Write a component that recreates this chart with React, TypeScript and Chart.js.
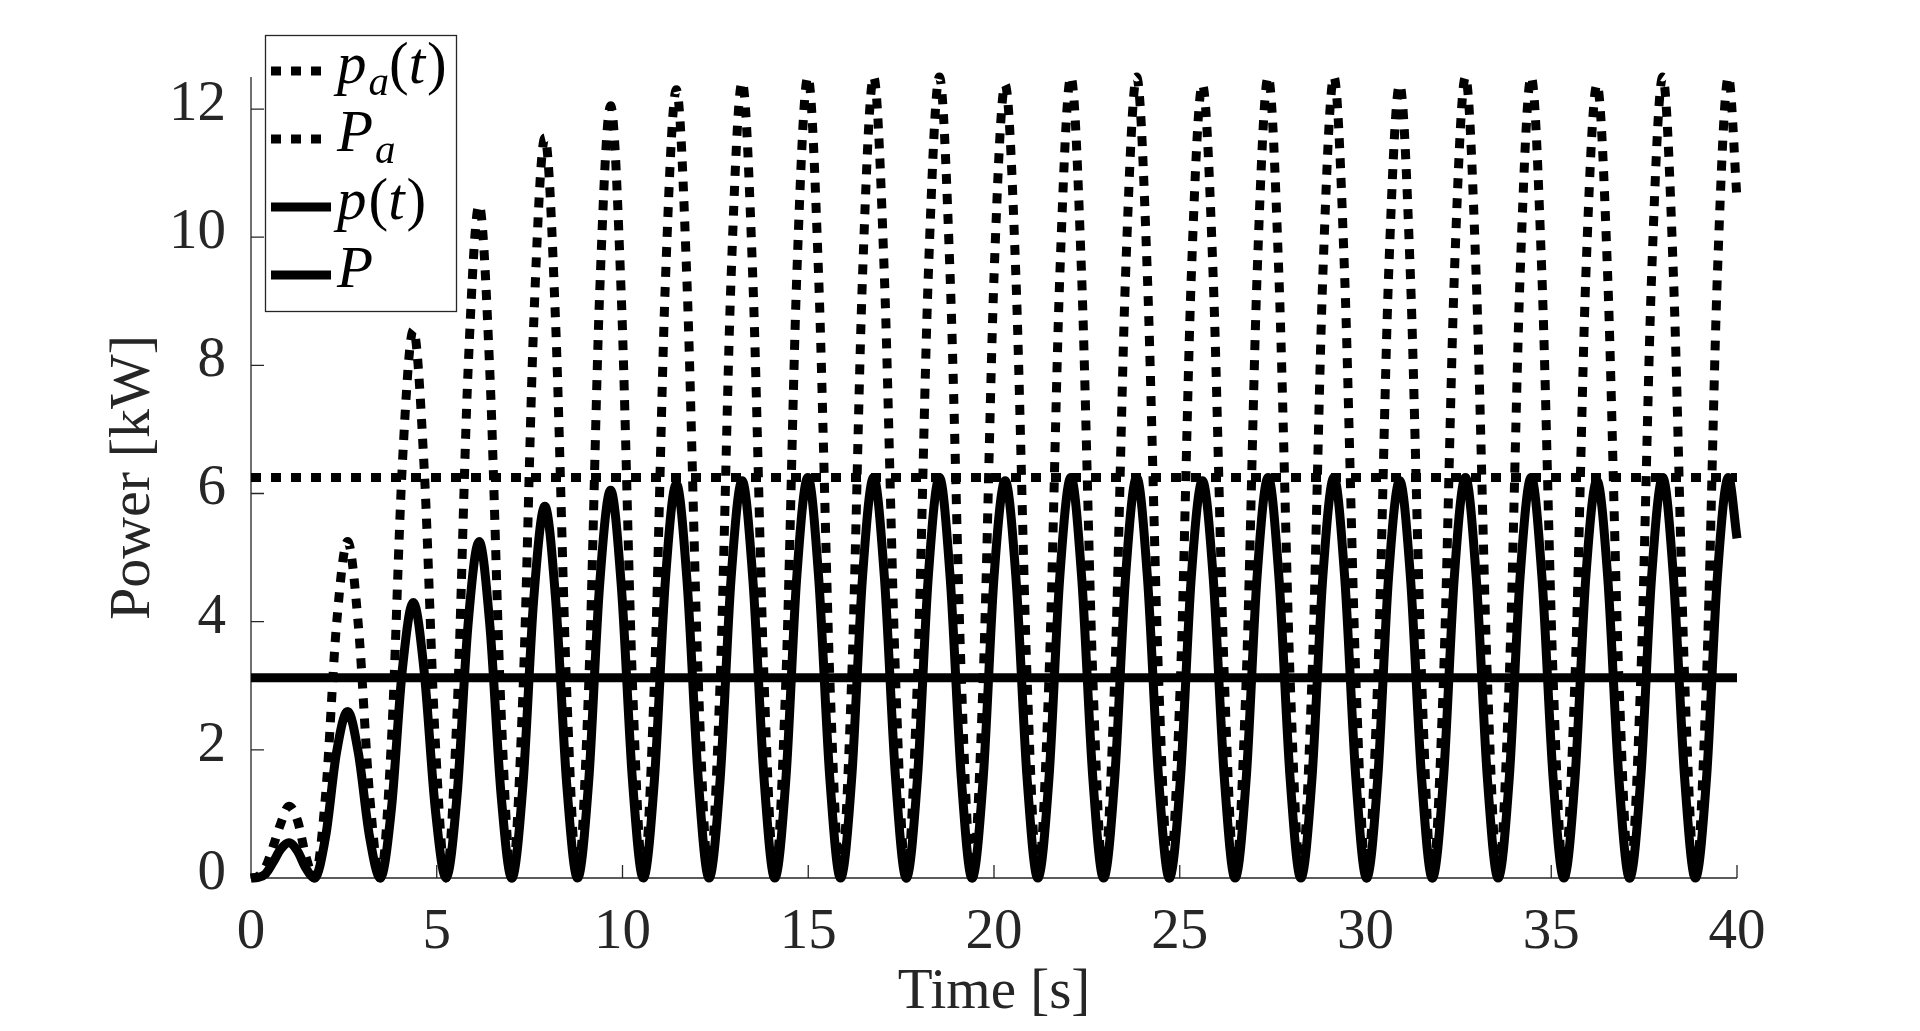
import React, { useEffect, useRef } from 'react';
import { Chart, registerables } from 'chart.js';

Chart.register(...registerables);

// ---- data ----
const time = [
  0, 0.2, 0.4, 0.6, 0.8, 1.02, 1.25, 1.48,
  1.71, 2.01, 2.30, 2.60, 2.89, 3.19,
  3.48, 3.78, 4.07, 4.37, 4.66, 4.96,
  5.25, 5.55, 5.84, 6.14, 6.43, 6.73,
  7.02, 7.32, 7.61, 7.91, 8.20, 8.50,
  8.79, 9.09, 9.38, 9.68, 9.97, 10.27,
  10.56, 10.86, 11.15, 11.45, 11.74, 12.04,
  12.33, 12.63, 12.92, 13.22, 13.51, 13.81,
  14.10, 14.40, 14.69, 14.99, 15.28, 15.58,
  15.87, 16.17, 16.46, 16.76, 17.05, 17.35,
  17.64, 17.94, 18.23, 18.53, 18.82, 19.12,
  19.41, 19.71, 20.00, 20.30, 20.59, 20.89,
  21.18, 21.48, 21.77, 22.07, 22.36, 22.66,
  22.95, 23.25, 23.54, 23.84, 24.13, 24.43,
  24.72, 25.02, 25.31, 25.61, 25.90, 26.20,
  26.49, 26.79, 27.08, 27.38, 27.67, 27.97,
  28.26, 28.56, 28.85, 29.15, 29.44, 29.74,
  30.03, 30.33, 30.62, 30.92, 31.21, 31.51,
  31.80, 32.10, 32.39, 32.69, 32.98, 33.28,
  33.57, 33.87, 34.16, 34.46, 34.75, 35.05,
  35.34, 35.64, 35.93, 36.23, 36.52, 36.82,
  37.11, 37.41, 37.70, 38.00, 38.29, 38.59,
  38.88, 39.18, 39.47, 39.77, 40.00,
];

// available power p_a(t) [kW]
const paValues = [
  0, 0.03, 0.18, 0.5, 0.85, 1.12, 0.9, 0.33,
  0, 1.31, 3.94, 5.25, 3.94, 1.31,
  0, 2.14, 6.41, 8.55, 6.41, 2.14,
  0, 2.63, 7.88, 10.5, 7.88, 2.63,
  0, 2.89, 8.66, 11.55, 8.66, 2.89,
  0, 3.01, 9.04, 12.05, 9.04, 3.01,
  0, 3.08, 9.23, 12.3, 9.23, 3.08,
  0, 3.1, 9.32, 12.42, 9.32, 3.1,
  0, 3.13, 9.38, 12.5, 9.38, 3.13,
  0, 3.13, 9.38, 12.5, 9.38, 3.13,
  0, 3.13, 9.38, 12.5, 9.38, 3.13,
  0, 3.13, 9.38, 12.38, 9.38, 3.13,
  0, 3.13, 9.38, 12.5, 9.38, 3.13,
  0, 3.13, 9.38, 12.5, 9.38, 3.13,
  0, 3.13, 9.38, 12.38, 9.38, 3.13,
  0, 3.13, 9.38, 12.5, 9.38, 3.13,
  0, 3.13, 9.38, 12.5, 9.38, 3.13,
  0, 3.13, 9.38, 12.38, 9.38, 3.13,
  0, 3.13, 9.38, 12.5, 9.38, 3.13,
  0, 3.13, 9.38, 12.5, 9.38, 3.13,
  0, 3.13, 9.38, 12.38, 9.38, 3.13,
  0, 3.13, 9.38, 12.5, 9.38, 3.13,
  0, 3.13, 9.38, 12.5, 10.6,
];

// absorbed power p(t) [kW]
const pValues = [
  0, 0.01, 0.07, 0.25, 0.45, 0.55, 0.42, 0.15,
  0, 0.65, 1.95, 2.6, 1.95, 0.65,
  0, 1.08, 3.23, 4.3, 3.23, 1.08,
  0, 1.31, 3.94, 5.25, 3.94, 1.31,
  0, 1.45, 4.35, 5.8, 4.35, 1.45,
  0, 1.51, 4.54, 6.05, 4.54, 1.51,
  0, 1.54, 4.61, 6.15, 4.61, 1.54,
  0, 1.55, 4.65, 6.2, 4.65, 1.55,
  0, 1.56, 4.69, 6.25, 4.69, 1.56,
  0, 1.56, 4.69, 6.25, 4.69, 1.56,
  0, 1.56, 4.69, 6.25, 4.69, 1.56,
  0, 1.56, 4.69, 6.2, 4.69, 1.56,
  0, 1.56, 4.69, 6.25, 4.69, 1.56,
  0, 1.56, 4.69, 6.25, 4.69, 1.56,
  0, 1.56, 4.69, 6.2, 4.69, 1.56,
  0, 1.56, 4.69, 6.25, 4.69, 1.56,
  0, 1.56, 4.69, 6.25, 4.69, 1.56,
  0, 1.56, 4.69, 6.2, 4.69, 1.56,
  0, 1.56, 4.69, 6.25, 4.69, 1.56,
  0, 1.56, 4.69, 6.25, 4.69, 1.56,
  0, 1.56, 4.69, 6.2, 4.69, 1.56,
  0, 1.56, 4.69, 6.25, 4.69, 1.56,
  0, 1.56, 4.69, 6.25, 5.3,
];

const meanSpan = [0, 40];
const PaMean = 6.25;
const PMean = 3.125;

const xTicks = [0, 5, 10, 15, 20, 25, 30, 35, 40];
const yTicks = [0, 2, 4, 6, 8, 10, 12];

const xTitle = 'Time [s]';
const yTitle = 'Power [kW]';

// legend labels as math pieces: [text, italic, subscript]
const legendLabels: [string, boolean, boolean][][] = [
  [['p', true, false], ['a', true, true], ['(', false, false], ['t', true, false], [')', false, false]],
  [['P', true, false], ['a', true, true]],
  [['p', true, false], ['(', false, false], ['t', true, false], [')', false, false]],
  [['P', true, false]],
];

// ---- styling ----
const FONT = "'Liberation Serif', 'Times New Roman', serif";
const AXIS_COLOR = '#262626';
const LINE_W = 9;
const DOT_DASH = [10, 10];

const axesPlugin = {
  id: 'matlabAxes',
  beforeDatasetsDraw(chart: any) {
    const { ctx, chartArea: a, scales } = chart;
    const x = scales.x;
    const y = scales.y;
    ctx.save();
    ctx.strokeStyle = AXIS_COLOR;
    ctx.lineWidth = 1.3;
    ctx.beginPath();
    ctx.moveTo(a.left, a.top);
    ctx.lineTo(a.left, a.bottom);
    ctx.lineTo(a.right, a.bottom);
    yTicks.forEach((v) => {
      const py = y.getPixelForValue(v);
      ctx.moveTo(a.left, py);
      ctx.lineTo(a.left + 13, py);
    });
    xTicks.forEach((v) => {
      const px = x.getPixelForValue(v);
      ctx.moveTo(px, a.bottom);
      ctx.lineTo(px, a.bottom - 13);
    });
    ctx.stroke();
    ctx.restore();
  },
};

const legendPlugin = {
  id: 'matlabLegend',
  afterDraw(chart: any) {
    const { ctx } = chart;
    const boxL = 265, boxT = 35, boxW = 191, boxH = 276;
    ctx.save();
    ctx.fillStyle = '#ffffff';
    ctx.fillRect(boxL, boxT, boxW, boxH);
    ctx.strokeStyle = AXIS_COLOR;
    ctx.lineWidth = 1.3;
    ctx.strokeRect(boxL + 0.5, boxT + 0.5, boxW, boxH);

    const datasets = chart.data.datasets;
    legendLabels.forEach((parts, i) => {
      const rowY = 71 + i * 68;
      const ds = datasets[i];
      ctx.save();
      ctx.strokeStyle = ds.borderColor;
      ctx.lineWidth = ds.borderWidth;
      ctx.lineCap = 'butt';
      ctx.setLineDash(ds.borderDash || []);
      ctx.beginPath();
      ctx.moveTo(271, rowY);
      ctx.lineTo(331, rowY);
      ctx.stroke();
      ctx.restore();

      let tx = 337;
      const base = rowY + 12;
      ctx.fillStyle = '#000000';
      ctx.textBaseline = 'alphabetic';
      ctx.textAlign = 'left';
      parts.forEach(([txt, it, sub]) => {
        const size = sub ? 41 : 59;
        ctx.font = `${it ? 'italic ' : ''}${size}px ${FONT}`;
        ctx.fillText(txt, tx, base + (sub ? 12 : 0));
        tx += ctx.measureText(txt).width + (it && !sub ? 2 : 0);
      });
    });
    ctx.restore();
  },
};

export default function App() {
  const ref = useRef<HTMLCanvasElement>(null);

  useEffect(() => {
    document.body.style.margin = '0';
    const canvas = ref.current;
    if (!canvas) return;

    const lineBase = {
      borderColor: '#000000',
      borderWidth: LINE_W,
      pointRadius: 0,
      pointHoverRadius: 0,
      fill: false,
      clip: false as any,
      borderCapStyle: 'butt' as const,
      borderJoinStyle: 'round' as const,
    };

    const chart = new Chart(canvas, {
      type: 'line',
      data: {
        datasets: [
          {
            ...lineBase,
            label: 'p_a(t)',
            data: time.map((t, i) => ({ x: t, y: paValues[i] })),
            borderDash: DOT_DASH,
            cubicInterpolationMode: 'monotone',
            order: 4,
          },
          {
            ...lineBase,
            label: 'P_a',
            data: meanSpan.map((t) => ({ x: t, y: PaMean })),
            borderDash: DOT_DASH,
            order: 3,
          },
          {
            ...lineBase,
            label: 'p(t)',
            data: time.map((t, i) => ({ x: t, y: pValues[i] })),
            cubicInterpolationMode: 'monotone',
            order: 2,
          },
          {
            ...lineBase,
            label: 'P',
            data: meanSpan.map((t) => ({ x: t, y: PMean })),
            order: 1,
          },
        ] as any,
      },
      options: {
        responsive: false,
        animation: false,
        events: [],
        layout: { padding: { left: 0, top: 77, right: 183, bottom: 0 } },
        plugins: {
          legend: { display: false },
          tooltip: { enabled: false },
        },
        scales: {
          x: {
            type: 'linear',
            min: 0,
            max: 40,
            afterBuildTicks: (s: any) => {
              s.ticks = xTicks.map((v) => ({ value: v }));
            },
            afterFit: (s: any) => {
              s.height = 153;
            },
            grid: { display: false },
            border: { display: false },
            ticks: {
              font: { family: FONT, size: 57 },
              color: AXIS_COLOR,
              padding: 13,
              maxRotation: 0,
              autoSkip: false,
            },
            title: {
              display: true,
              text: xTitle,
              font: { family: FONT, size: 57 },
              color: AXIS_COLOR,
              padding: { top: 0, bottom: 4 },
            },
          },
          y: {
            type: 'linear',
            min: 0,
            max: 12.5,
            afterBuildTicks: (s: any) => {
              s.ticks = yTicks.map((v) => ({ value: v }));
            },
            afterFit: (s: any) => {
              s.width = 251;
            },
            grid: { display: false },
            border: { display: false },
            ticks: {
              font: { family: FONT, size: 57 },
              color: AXIS_COLOR,
              padding: 17,
              labelOffset: -4,
              autoSkip: false,
            },
            title: {
              display: true,
              text: yTitle,
              font: { family: FONT, size: 58 },
              color: AXIS_COLOR,
              padding: { top: 99, bottom: 0 },
            },
          },
        },
      } as any,
      plugins: [axesPlugin, legendPlugin],
    });

    return () => chart.destroy();
  }, []);

  return (
    <div style={{ position: 'fixed', left: 0, top: 0, width: 1920, height: 1031, background: '#ffffff' }}>
      <canvas ref={ref} width={1920} height={1031} style={{ width: 1920, height: 1031, display: 'block' }} />
    </div>
  );
}
